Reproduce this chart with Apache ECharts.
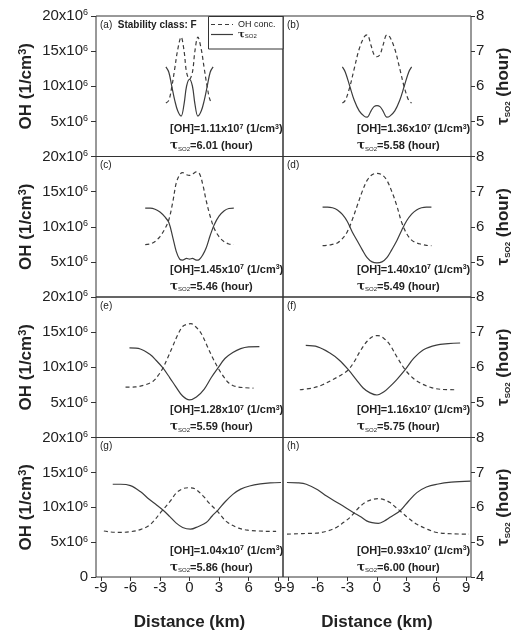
<!DOCTYPE html>
<html>
<head>
<meta charset="utf-8">
<script src="https://cdn.jsdelivr.net/npm/echarts@6/dist/echarts.min.js"></script>
<style>
  html, body { margin: 0; background: #fff; }
  #chart { width: 515px; height: 632px; }
</style>
</head>
<body>
<div id="chart"></div>
<script>
// distance (km) and values
// OH in units of 1e6 molecules/cm3, tau in hours
const distOhA = [-2.4, -2.1, -1.8, -1.5, -1.2, -0.85, -0.55, -0.3, 0, 0.3, 0.55, 0.85, 1.2, 1.5, 1.8, 2.1, 2.4];
const ohA = [7.6, 8.0, 9.9, 12.5, 15.2, 17.0, 15.0, 12.0, 11.0, 12.0, 15.0, 17.0, 15.2, 12.5, 9.9, 8.0, 7.6];
const distTauA = distOhA;
const tauA = [6.55, 6.4, 6.0, 5.6, 5.3, 5.15, 5.5, 6.0, 6.2, 6.0, 5.5, 5.15, 5.3, 5.6, 6.0, 6.4, 6.55];

const distOhB = [-3.5, -3.2, -2.75, -2.3, -1.8, -1.3, -1.0, -0.6, -0.3, 0, 0.3, 0.6, 1.0, 1.3, 1.8, 2.3, 2.75, 3.2, 3.5];
const ohB = [7.6, 8.0, 9.9, 12.5, 15.3, 17.0, 17.3, 15.8, 14.5, 14.2, 14.5, 15.8, 17.3, 17.0, 15.3, 12.5, 9.9, 8.0, 7.6];
const distTauB = distOhB;
const tauB = [6.55, 6.4, 6.0, 5.6, 5.3, 5.15, 5.12, 5.3, 5.42, 5.45, 5.42, 5.3, 5.12, 5.15, 5.3, 5.6, 6.0, 6.4, 6.55];

const distOhC = [-4.5, -4.0, -3.5, -3.0, -2.5, -2.1, -1.7, -1.35, -1.0, -0.7, -0.3, 0, 0.3, 0.7, 1.0, 1.35, 1.7, 2.1, 2.5, 3.0, 3.5, 4.0, 4.5];
const ohC = [7.45, 7.55, 7.9, 8.6, 9.7, 11.0, 13.5, 16.2, 17.4, 17.7, 17.4, 17.3, 17.5, 17.8, 17.6, 16.0, 13.7, 11.5, 9.8, 8.6, 7.9, 7.55, 7.45];
const distTauC = distOhC;
const tauC = [6.53, 6.53, 6.5, 6.42, 6.28, 6.12, 5.7, 5.3, 5.08, 5.05, 5.1, 5.08, 5.1, 5.05, 5.07, 5.2, 5.4, 5.75, 6.05, 6.3, 6.45, 6.52, 6.53];

const distOhD = [-5.5, -5.0, -4.5, -4.0, -3.5, -3.0, -2.5, -2.0, -1.5, -1.0, -0.5, 0, 0.5, 1.0, 1.5, 2.0, 2.5, 3.0, 3.5, 4.0, 4.5, 5.0, 5.5];
const ohD = [7.3, 7.35, 7.5, 7.7, 8.3, 9.3, 11.0, 13.0, 15.0, 16.6, 17.4, 17.6, 17.4, 16.6, 15.0, 13.0, 10.6, 9.0, 8.1, 7.7, 7.5, 7.35, 7.3];
const distTauD = distOhD;
const tauD = [6.56, 6.56, 6.54, 6.48, 6.35, 6.15, 5.85, 5.6, 5.35, 5.12, 5.0, 4.97, 5.0, 5.12, 5.35, 5.6, 5.9, 6.17, 6.36, 6.48, 6.54, 6.56, 6.56];

const distOhE = [-6.5, -5.5, -4.5, -3.7, -3.2, -2.7, -2.2, -1.7, -1.2, -0.7, -0.3, 0.15, 0.6, 1.0, 1.35, 1.8, 2.3, 2.9, 3.5, 4.0, 4.6, 5.5, 6.5];
const ohE = [7.17, 7.2, 7.5, 8.0, 8.8, 9.9, 11.4, 13.0, 14.6, 15.8, 16.1, 16.2, 15.8, 15.2, 14.4, 13.0, 11.5, 9.9, 8.6, 7.75, 7.3, 7.1, 7.03];
const distTauE = [-6.1, -5.0, -4.0, -3.4, -2.7, -2.0, -1.4, -0.7, 0, 0.7, 1.5, 2.2, 2.9, 3.6, 4.4, 5.2, 6.0, 7.1];
const tauE = [6.55, 6.52, 6.36, 6.2, 5.98, 5.7, 5.45, 5.18, 5.07, 5.15, 5.38, 5.7, 5.98, 6.25, 6.42, 6.53, 6.58, 6.59];

const distOhF = [-7.8, -6.5, -5.5, -4.4, -3.5, -2.9, -2.3, -1.7, -1.0, -0.4, 0.1, 0.7, 1.3, 2.0, 2.85, 3.6, 4.4, 5.5, 6.5, 7.8];
const ohF = [6.8, 7.05, 7.5, 8.3, 9.0, 9.64, 10.8, 12.3, 13.7, 14.4, 14.5, 14.1, 13.2, 11.5, 9.64, 8.5, 7.74, 7.1, 6.85, 6.8];
const distTauF = [-7.2, -6.0, -4.8, -3.8, -2.9, -2.1, -1.4, -0.7, 0, 0.7, 1.3, 2.0, 2.85, 3.7, 4.7, 6.0, 7.2, 8.4];
const tauF = [6.62, 6.58, 6.41, 6.2, 5.93, 5.65, 5.41, 5.27, 5.21, 5.3, 5.45, 5.65, 5.93, 6.25, 6.5, 6.63, 6.67, 6.69];

const distOhG = [-8.7, -8.0, -7.0, -6.0, -5.0, -4.0, -2.8, -2.0, -1.3, -0.6, 0, 0.6, 1.4, 2.0, 2.8, 3.8, 5.0, 6.0, 7.0, 8.0, 8.8];
const ohG = [6.6, 6.45, 6.4, 6.5, 6.8, 7.5, 9.47, 10.8, 12.1, 12.7, 12.8, 12.6, 11.6, 10.6, 9.47, 7.9, 7.0, 6.7, 6.6, 6.55, 6.55];
const distTauG = [-7.8, -7.0, -6.0, -5.0, -4.1, -3.4, -2.7, -2.0, -1.4, -0.7, 0.1, 0.9, 1.7, 2.3, 2.9, 3.6, 4.4, 5.2, 6.1, 7.2, 8.2, 9.3];
const tauG = [6.66, 6.66, 6.62, 6.45, 6.23, 6.08, 5.92, 5.73, 5.56, 5.42, 5.37, 5.45, 5.56, 5.75, 5.92, 6.15, 6.37, 6.52, 6.61, 6.67, 6.7, 6.71];

const distOhH = [-9.1, -8.0, -7.0, -6.1, -5.0, -4.1, -3.4, -2.74, -2.0, -1.22, -0.5, 0.13, 0.7, 1.32, 1.8, 2.34, 3.2, 4.03, 5.0, 6.06, 7.5, 9.3];
const ohH = [6.14, 6.2, 6.25, 6.29, 6.6, 7.1, 7.8, 8.53, 9.7, 10.67, 11.1, 11.24, 11.1, 10.67, 10.1, 9.47, 8.4, 7.57, 6.9, 6.38, 6.2, 6.14];
const distTauH = [-9.1, -8.0, -7.15, -6.0, -5.1, -3.76, -2.4, -1.6, -1.05, -0.5, 0.13, 0.7, 1.32, 2.34, 3.2, 4.03, 5.0, 6.06, 7.5, 9.45];
const tauH = [6.71, 6.7, 6.66, 6.5, 6.32, 6.09, 5.85, 5.72, 5.61, 5.56, 5.54, 5.6, 5.71, 5.9, 6.18, 6.42, 6.58, 6.66, 6.72, 6.75];

// panel letters and the averages printed inside each panel
const panelIds = ['a', 'b', 'c', 'd', 'e', 'f', 'g', 'h'];
const ohMean = ['1.11', '1.36', '1.45', '1.40', '1.28', '1.16', '1.04', '0.93'];
const tauMean = ['6.01', '5.58', '5.46', '5.49', '5.59', '5.75', '5.86', '6.00'];
const distTicks = [-9, -6, -3, 0, 3, 6, 9];

const panels = [
  [distOhA, ohA, distTauA, tauA],
  [distOhB, ohB, distTauB, tauB],
  [distOhC, ohC, distTauC, tauC],
  [distOhD, ohD, distTauD, tauD],
  [distOhE, ohE, distTauE, tauE],
  [distOhF, ohF, distTauF, tauF],
  [distOhG, ohG, distTauG, tauG],
  [distOhH, ohH, distTauH, tauH]
];

const FONT = '"Liberation Sans", Arial, sans-serif';
const INK = '#222';
const LINE = '#3c3c3c';
const ROW_H = 140.5;
const TOP = 16;

const zip = (xs, ys) => xs.map((x, i) => [x, ys[i]]);

const grid = [], xAxis = [], yAxis = [], series = [], graphic = [];

panelIds.forEach((id, i) => {
  const col = i % 2;
  const row = Math.floor(i / 2);
  const left = col ? 283 : 96;
  const width = col ? 188 : 187;
  const top = TOP + row * ROW_H;
  const last = row === 3;

  grid.push({
    left, top, width, height: ROW_H,
    show: true, borderColor: '#333', borderWidth: 1, backgroundColor: 'transparent'
  });

  xAxis.push({
    type: 'value', gridIndex: i, min: -9.5, max: 9.5,
    axisLine: { show: false, onZero: false },
    splitLine: { show: false },
    axisTick: { show: last, customValues: distTicks, length: 4, lineStyle: { color: '#333' } },
    axisLabel: {
      show: last, customValues: distTicks, margin: 3,
      fontFamily: FONT, fontSize: 15, color: INK
    },
    name: last ? 'Distance (km)' : '',
    nameLocation: 'middle', nameGap: 37,
    nameTextStyle: { fontFamily: FONT, fontSize: 17, fontWeight: 'bold', color: INK }
  });

  // left axis: OH
  yAxis.push({
    type: 'value', gridIndex: i, position: 'left', min: 0, max: 20, interval: 5,
    axisLine: { show: false, onZero: false },
    splitLine: { show: false },
    axisTick: { show: col === 0, length: 5, lineStyle: { color: '#333' } },
    axisLabel: {
      show: col === 0, margin: 8, showMinLabel: true, showMaxLabel: true,
      fontFamily: FONT, fontSize: 15, color: INK,
      formatter: v => v === 0 ? (last ? '0' : '') : v + 'x10{sup|6}',
      rich: { sup: { fontFamily: FONT, fontSize: 9, color: INK, verticalAlign: 'top', padding: [0, 0, 6, 0] } }
    },
    name: col === 0 ? 'OH (1/cm{sup|3})' : '',
    nameLocation: 'middle', nameGap: 60, nameRotate: 90,
    nameTextStyle: {
      fontFamily: FONT, fontSize: 17, fontWeight: 'bold', color: INK,
      rich: { sup: { fontFamily: FONT, fontSize: 11, fontWeight: 'bold', color: INK, verticalAlign: 'top', padding: [0, 0, 8, 0] } }
    }
  });

  // right axis: tau SO2
  yAxis.push({
    type: 'value', gridIndex: i, position: 'right', min: 4, max: 8, interval: 1,
    axisLine: { show: false, onZero: false },
    splitLine: { show: false },
    axisTick: { show: col === 1, length: 4, lineStyle: { color: '#333' } },
    axisLabel: {
      show: col === 1, margin: 5, showMinLabel: true, showMaxLabel: true,
      fontFamily: FONT, fontSize: 15, color: INK,
      formatter: v => v === 4 ? (last ? '4' : '') : String(v)
    },
    name: col === 1 ? 'τ{sub|SO2} (hour)' : '',
    nameLocation: 'middle', nameGap: 24, nameRotate: 90,
    nameTextStyle: {
      fontFamily: FONT, fontSize: 17, fontWeight: 'bold', color: INK,
      rich: { sub: { fontFamily: FONT, fontSize: 8, color: INK, verticalAlign: 'bottom' } }
    }
  });

  const [dOh, oh, dTau, tau] = panels[i];
  series.push({
    name: 'OH conc.', type: 'line', xAxisIndex: i, yAxisIndex: 2 * i,
    data: zip(dOh, oh), symbol: 'none', smooth: 0.35, silent: true,
    lineStyle: { color: LINE, width: 1.2, type: [4, 3] }
  });
  series.push({
    name: 'tau', type: 'line', xAxisIndex: i, yAxisIndex: 2 * i + 1,
    data: zip(dTau, tau), symbol: 'none', smooth: 0.35, silent: true,
    lineStyle: { color: LINE, width: 1.2, type: 'solid' }
  });

  // panel letter
  graphic.push({
    type: 'text', x: left + 4, y: top + 9,
    style: {
      text: i === 0 ? '(a)  {b|Stability class: F}' : '(' + id + ')',
      fontFamily: FONT, fontSize: 10, fill: INK, verticalAlign: 'middle',
      rich: { b: { fontFamily: FONT, fontSize: 10, fontWeight: 'bold', fill: INK } }
    }
  });

  // averages
  const annRich = {
    sup: { fontFamily: FONT, fontSize: 7, fontWeight: 'bold', fill: INK, verticalAlign: 'top' },
    sub: { fontFamily: FONT, fontSize: 6, fill: INK, verticalAlign: 'bottom' },
    t: { fontFamily: 'DejaVu Serif', fontSize: 12, fontWeight: 'bold', fill: INK }
  };
  graphic.push({
    type: 'text', x: left + 74, y: top + 113,
    style: {
      text: '[OH]=' + ohMean[i] + 'x10{sup|7} (1/cm{sup|3})',
      fontFamily: FONT, fontSize: 11, fontWeight: 'bold', fill: INK, verticalAlign: 'middle',
      rich: annRich
    }
  });
  graphic.push({
    type: 'text', x: left + 74, y: top + 130,
    style: {
      text: '{t|τ}{sub|SO2}=' + tauMean[i] + ' (hour)',
      fontFamily: FONT, fontSize: 11, fontWeight: 'bold', fill: INK, verticalAlign: 'middle',
      rich: annRich
    }
  });
});

// legend box in panel (a)
graphic.push(
  { type: 'rect', shape: { x: 208.5, y: 16.5, width: 74.5, height: 32.5 },
    style: { fill: '#fff', stroke: '#333', lineWidth: 1 } },
  { type: 'line', shape: { x1: 211, y1: 24.5, x2: 233, y2: 24.5 },
    style: { stroke: LINE, lineWidth: 1.2, lineDash: [4, 3] } },
  { type: 'text', x: 238, y: 24.5,
    style: { text: 'OH conc.', fontFamily: FONT, fontSize: 9, fill: INK, verticalAlign: 'middle' } },
  { type: 'line', shape: { x1: 211, y1: 34.5, x2: 233, y2: 34.5 },
    style: { stroke: LINE, lineWidth: 1.2 } },
  { type: 'text', x: 238, y: 34.5,
    style: {
      text: '{t|τ}{sub|SO2}', fontFamily: FONT, fontSize: 9, fill: INK, verticalAlign: 'middle',
      rich: {
        t: { fontFamily: 'DejaVu Serif', fontSize: 10, fontWeight: 'bold', fill: INK },
        sub: { fontFamily: FONT, fontSize: 6, fill: INK, verticalAlign: 'bottom' }
      }
    } }
);

const chart = echarts.init(document.getElementById('chart'), null, { renderer: 'canvas' });
chart.setOption({
  backgroundColor: '#fff',
  animation: false,
  grid, xAxis, yAxis, series, graphic
});
</script>
</body>
</html>
